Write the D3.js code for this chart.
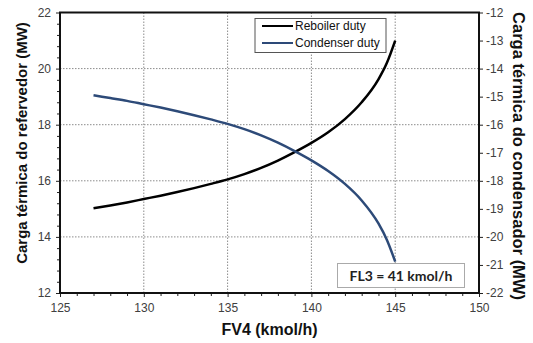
<!DOCTYPE html>
<html>
<head>
<meta charset="utf-8">
<script src="https://cdn.jsdelivr.net/npm/d3@7"></script>
<style>
  body { margin: 0; background: #fff; }
  text { font-family: Arial, "Liberation Sans", sans-serif; }
</style>
</head>
<body>
<div id="vis"></div>
<script>
// data
const fv4 = [127, 128, 129, 130, 131, 132, 133, 134, 135, 136, 137, 138, 139, 140, 141, 142, 143, 144, 144.5, 145];
const reboilerDuty = [15.02, 15.12, 15.23, 15.35, 15.47, 15.60, 15.74, 15.89, 16.05, 16.24, 16.46, 16.72, 17.02, 17.35, 17.73, 18.20, 18.80, 19.62, 20.2, 21.0];
const condenserDuty = [-14.95, -15.05, -15.15, -15.27, -15.39, -15.52, -15.66, -15.81, -15.97, -16.16, -16.38, -16.64, -16.94, -17.27, -17.65, -18.11, -18.70, -19.52, -20.1, -20.88];
const xTicks = [125, 130, 135, 140, 145, 150];
const leftTicks = [12, 14, 16, 18, 20, 22];
const rightTicks = [-22, -21, -20, -19, -18, -17, -16, -15, -14, -13, -12];
const seriesNames = ["Reboiler duty", "Condenser duty"];
const note = "FL3 = 41 kmol/h";

const width = 533, height = 343;
const margin = { top: 12.5, right: 54, bottom: 50, left: 60 };

const svg = d3.select("#vis")
    .append("svg")
    .attr("width", width)
    .attr("height", height);

const x = d3.scaleLinear().domain([125, 150]).range([margin.left, width - margin.right]);
const yL = d3.scaleLinear().domain([12, 22]).range([height - margin.bottom, margin.top]);
const yR = d3.scaleLinear().domain([-22, -12]).range([height - margin.bottom, margin.top]);

const x0 = x(125), x1 = x(150), y0 = yL(12), y1 = yL(22);

// grid
const grid = svg.append("g").attr("class", "grid");
grid.selectAll(".gx")
    .data(xTicks.slice(1, -1))
    .enter().append("line")
    .attr("x1", d => x(d)).attr("x2", d => x(d))
    .attr("y1", y0).attr("y2", y1)
    .attr("stroke", "#8c8c8c").attr("stroke-width", 1)
    .attr("stroke-dasharray", "1.5,1.5");
grid.selectAll(".gy")
    .data(leftTicks.slice(1, -1))
    .enter().append("line")
    .attr("x1", x0).attr("x2", x1)
    .attr("y1", d => yL(d)).attr("y2", d => yL(d))
    .attr("stroke", "#8c8c8c").attr("stroke-width", 1)
    .attr("stroke-dasharray", "1.5,1.5");

// axes
svg.append("g")
    .attr("transform", `translate(0,${y0})`)
    .call(d3.axisBottom(x).tickValues(xTicks).tickSize(4).tickPadding(6).tickFormat(d3.format("d")));
svg.append("g")
    .attr("transform", `translate(0,${y0})`)
    .call(d3.axisBottom(x).tickValues(d3.range(126, 150, 1).filter(d => d % 5 !== 0)).tickSize(3).tickFormat(""));

svg.append("g")
    .attr("transform", `translate(${x0},0)`)
    .call(d3.axisLeft(yL).tickValues(leftTicks).tickSize(4).tickPadding(5));
svg.append("g")
    .attr("transform", `translate(${x0},0)`)
    .call(d3.axisLeft(yL).tickValues(d3.range(12.4, 22, 0.4).filter(d => Math.abs(d / 2 - Math.round(d / 2)) > 0.01)).tickSize(3).tickFormat(""));

svg.append("g")
    .attr("transform", `translate(${x1},0)`)
    .call(d3.axisRight(yR).tickValues(rightTicks).tickSize(4).tickPadding(3).tickFormat(d => d));

svg.selectAll(".domain").remove();
svg.selectAll(".tick line").attr("stroke", "#222").attr("stroke-width", 1);
svg.selectAll(".tick text")
    .attr("fill", "#404040")
    .style("font-size", "12px")
    .style("font-family", "Arial, 'Liberation Sans', sans-serif");

// frame
svg.append("rect")
    .attr("x", x0).attr("y", y1)
    .attr("width", x1 - x0).attr("height", y0 - y1)
    .attr("fill", "none")
    .attr("stroke", "#111")
    .attr("stroke-width", 2);

// curves
const lineL = d3.line()
    .x((d, i) => x(fv4[i]))
    .y(d => yL(d))
    .curve(d3.curveMonotoneX);
const lineR = d3.line()
    .x((d, i) => x(fv4[i]))
    .y(d => yR(d))
    .curve(d3.curveMonotoneX);

svg.append("path")
    .attr("d", lineL(reboilerDuty))
    .attr("fill", "none")
    .attr("stroke", "#000")
    .attr("stroke-width", 2.5);
svg.append("path")
    .attr("d", lineR(condenserDuty))
    .attr("fill", "none")
    .attr("stroke", "#2d4a78")
    .attr("stroke-width", 2.5);

// legend
const legend = svg.append("g");
legend.append("rect")
    .attr("x", 255).attr("y", 18.5)
    .attr("width", 131).attr("height", 34)
    .attr("fill", "#fff")
    .attr("stroke", "#555").attr("stroke-width", 1);
const legendColors = ["#000", "#2d4a78"];
seriesNames.forEach((name, i) => {
    const ly = 26 + i * 17;
    legend.append("line")
        .attr("x1", 262).attr("x2", 293)
        .attr("y1", ly).attr("y2", ly)
        .attr("stroke", legendColors[i]).attr("stroke-width", 2);
    legend.append("text")
        .attr("x", 295).attr("y", ly + 4)
        .text(name)
        .style("font-size", "12px")
        .attr("fill", "#111");
});

// note box
svg.append("rect")
    .attr("x", 337.5).attr("y", 263.5)
    .attr("width", 127).attr("height", 24)
    .attr("fill", "#fff")
    .attr("stroke", "#aaa").attr("stroke-width", 1);
svg.append("text")
    .attr("x", 401).attr("y", 280.5)
    .attr("text-anchor", "middle")
    .text(note)
    .style("font-family", "Lato, 'Open Sans', sans-serif")
    .style("font-weight", "bold")
    .style("font-size", "14px")
    .attr("fill", "#222");

// axis titles
svg.append("text")
    .attr("x", (x0 + x1) / 2).attr("y", 335)
    .attr("text-anchor", "middle")
    .text("FV4 (kmol/h)")
    .style("font-weight", "bold")
    .style("font-size", "16px")
    .attr("fill", "#111");

svg.append("text")
    .attr("transform", `translate(27,143) rotate(-90)`)
    .attr("text-anchor", "middle")
    .text("Carga térmica do refervedor (MW)")
    .style("font-weight", "bold")
    .style("font-size", "15px")
    .attr("fill", "#111");

svg.append("text")
    .attr("transform", `translate(513,156) rotate(90)`)
    .attr("text-anchor", "middle")
    .text("Carga térmica do condensador (MW)")
    .style("font-weight", "bold")
    .style("font-size", "16.5px")
    .attr("fill", "#111");
</script>
</body>
</html>
